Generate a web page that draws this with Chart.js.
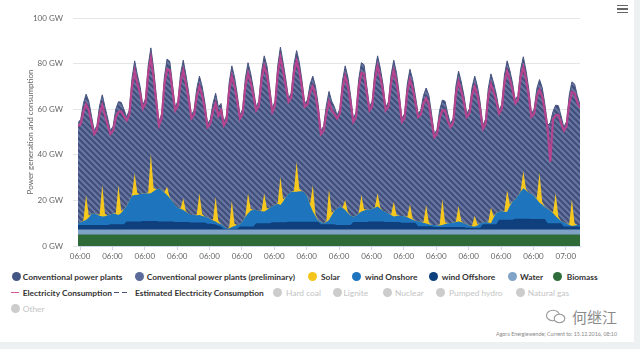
<!DOCTYPE html>
<html>
<head>
<meta charset="utf-8">
<script src="https://cdn.jsdelivr.net/npm/chart.js@4.4.0/dist/chart.umd.min.js"></script>
<style>
  body { margin: 0; width: 640px; height: 349px; background: #fff; position: relative; overflow: hidden; font-family: Lato, "Open Sans", sans-serif; }
  #wrap { position: absolute; left: 0; top: 0; width: 640px; height: 262px; }
  .strip-r { position: absolute; left: 634px; top: 0; width: 6px; height: 349px; background: #eef1f1; }
  .strip-b { position: absolute; left: 0; top: 342px; width: 640px; height: 7px; background: #eef1f1; }
  .menu { position: absolute; left: 617px; width: 11px; height: 1.6px; background: #666; }
  .dot { position: absolute; width: 9px; height: 9px; border-radius: 50%; }
  .lg { position: absolute; font-size: 8.4px; font-weight: 700; color: #333; white-space: nowrap; line-height: 10px; }
  .lg.off { color: #c4c4c4; font-weight: 400; }
  .mark { position: absolute; height: 1.6px; }
  .wm { position: absolute; left: 572px; top: 306px; font-size: 15px; color: #8a8a8a; font-family: "Noto Sans CJK SC", sans-serif; }
  .credit { position: absolute; right: 23px; top: 331px; font-size: 5.3px; color: #888; white-space: nowrap; }
</style>
</head>
<body>
<div id="wrap"><canvas id="chart" width="640" height="262"></canvas></div>

<div class="menu" style="top:4.5px"></div>
<div class="menu" style="top:8px"></div>
<div class="menu" style="top:11.5px"></div>

<!-- legend row 1 -->
<div class="dot" style="left:11.5px;top:272px;background:#445683"></div>
<div class="lg" style="left:22.7px;top:271.5px">Conventional power plants</div>
<div class="dot" style="left:134.8px;top:272px;background:#5a6a9a"></div>
<div class="lg" style="left:146.7px;top:271.5px">Conventional power plants (preliminary)</div>
<div class="dot" style="left:308.2px;top:272px;background:#f4c51d"></div>
<div class="lg" style="left:321px;top:271.5px">Solar</div>
<div class="dot" style="left:352.2px;top:272px;background:#1e74bd"></div>
<div class="lg" style="left:365px;top:271.5px">wind Onshore</div>
<div class="dot" style="left:428.8px;top:272px;background:#0e427f"></div>
<div class="lg" style="left:441.7px;top:271.5px">wind Offshore</div>
<div class="dot" style="left:507.8px;top:272px;background:#7fa4c8"></div>
<div class="lg" style="left:520px;top:271.5px">Water</div>
<div class="dot" style="left:553.2px;top:272px;background:#2f6d3a"></div>
<div class="lg" style="left:566.7px;top:271.5px">Biomass</div>

<!-- legend row 2 -->
<div class="mark" style="left:11px;top:291.5px;width:7.5px;background:#cf5a9c"></div>
<div class="lg" style="left:22.7px;top:287.5px">Electricity Consumption</div>
<div class="mark" style="left:114px;top:291.5px;width:5px;background:#4a5278"></div>
<div class="mark" style="left:122px;top:291.5px;width:5px;background:#4a5278"></div>
<div class="lg" style="left:135px;top:287.5px">Estimated Electricity Consumption</div>
<div class="dot" style="left:272.8px;top:288px;background:#cccccc"></div>
<div class="lg off" style="left:286px;top:287.5px">Hard coal</div>
<div class="dot" style="left:332.8px;top:288px;background:#cccccc"></div>
<div class="lg off" style="left:343.5px;top:287.5px">Lignite</div>
<div class="dot" style="left:382.8px;top:288px;background:#cccccc"></div>
<div class="lg off" style="left:395px;top:287.5px">Nuclear</div>
<div class="dot" style="left:435.5px;top:288px;background:#cccccc"></div>
<div class="lg off" style="left:449px;top:287.5px">Pumped hydro</div>
<div class="dot" style="left:515.5px;top:288px;background:#cccccc"></div>
<div class="lg off" style="left:527.7px;top:287.5px">Natural gas</div>

<!-- legend row 3 -->
<div class="dot" style="left:10.5px;top:304px;background:#cccccc"></div>
<div class="lg off" style="left:22.7px;top:303.5px">Other</div>

<svg style="position:absolute;left:545px;top:309px" width="24" height="16" viewBox="0 0 24 16">
  <ellipse cx="8" cy="6.5" rx="6.5" ry="5.3" fill="#fff" stroke="#9a9a9a" stroke-width="1.1"/>
  <ellipse cx="14.5" cy="9.5" rx="5.3" ry="4.3" fill="#fff" stroke="#9a9a9a" stroke-width="1.1"/>
</svg>
<div class="wm">何继江</div>
<div class="credit">Agora Energiewende; Current to: 15.12.2016, 08:10</div>

<div class="strip-r"></div>
<div class="strip-b"></div>

<script>
// one value every 4 hours (00, 04, 08, 12, 16, 20), one row per day, GW
const stepHours = 4;

const biomass = [
  5.0, 5.0, 5.0, 5.0, 5.0, 5.0,  5.0, 5.0, 5.0, 5.0, 5.0, 5.0,  5.0, 5.0, 5.0, 5.0, 5.0, 5.0,
  5.0, 5.0, 5.0, 5.0, 5.0, 5.0,  5.0, 5.0, 5.0, 5.0, 5.0, 5.0,  5.0, 5.0, 5.0, 5.0, 5.0, 5.0,
  5.0, 5.0, 5.0, 5.0, 5.0, 5.0,  5.0, 5.0, 5.0, 5.0, 5.0, 5.0,  5.0, 5.0, 5.0, 5.0, 5.0, 5.0,
  5.0, 5.0, 5.0, 5.0, 5.0, 5.0,  5.0, 5.0, 5.0, 5.0, 5.0, 5.0,  5.0, 5.0, 5.0, 5.0, 5.0, 5.0,
  5.0, 5.0, 5.0, 5.0, 5.0, 5.0,  5.0, 5.0, 5.0, 5.0, 5.0, 5.0,  5.0, 5.0, 5.0, 5.0, 5.0, 5.0,
  5.0, 5.0, 5.0, 5.0, 5.0, 5.0,  5.0, 5.0, 5.0, 5.0, 5.0, 5.0,  5.0, 5.0, 5.0, 5.0, 5.0, 5.0,
  5.0, 5.0, 5.0, 5.0, 5.0, 5.0,  5.0, 5.0, 5.0, 5.0, 5.0, 5.0,  5.0, 5.0, 5.0, 5.0, 5.0, 5.0,
  5.0, 5.0, 5.0, 5.0, 5.0, 5.0,  5.0, 5.0, 5.0, 5.0, 5.0, 5.0,  5.0, 5.0, 5.0, 5.0, 5.0, 5.0,
  5.0, 5.0, 5.0, 5.0, 5.0, 5.0,  5.0, 5.0, 5.0, 5.0, 5.0, 5.0,  5.0, 5.0, 5.0, 5.0, 5.0, 5.0,
  5.0, 5.0, 5.0, 5.0, 5.0, 5.0,  5.0, 5.0, 5.0, 5.0, 5.0, 5.0,  5.0, 5.0, 5.0, 5.0, 5.0, 5.0,
  5.0, 5.0, 5.0, 5.0, 5.0, 5.0,
  5.0
];

const water = [
  2.2, 2.2, 2.2, 2.2, 2.2, 2.2,  2.2, 2.2, 2.2, 2.2, 2.2, 2.2,  2.2, 2.2, 2.2, 2.2, 2.2, 2.2,
  2.2, 2.2, 2.2, 2.2, 2.2, 2.2,  2.2, 2.2, 2.2, 2.2, 2.2, 2.2,  2.2, 2.2, 2.2, 2.2, 2.2, 2.2,
  2.2, 2.2, 2.2, 2.2, 2.2, 2.2,  2.2, 2.2, 2.2, 2.2, 2.2, 2.2,  2.2, 2.2, 2.2, 2.2, 2.2, 2.2,
  2.2, 2.2, 2.2, 2.2, 2.2, 2.2,  2.2, 2.2, 2.2, 2.2, 2.2, 2.2,  2.2, 2.2, 2.2, 2.2, 2.2, 2.2,
  2.2, 2.2, 2.2, 2.2, 2.2, 2.2,  2.2, 2.2, 2.2, 2.2, 2.2, 2.2,  2.2, 2.2, 2.2, 2.2, 2.2, 2.2,
  2.2, 2.2, 2.2, 2.2, 2.2, 2.2,  2.2, 2.2, 2.2, 2.2, 2.2, 2.2,  2.2, 2.2, 2.2, 2.2, 2.2, 2.2,
  2.2, 2.2, 2.2, 2.2, 2.2, 2.2,  2.2, 2.2, 2.2, 2.2, 2.2, 2.2,  2.2, 2.2, 2.2, 2.2, 2.2, 2.2,
  2.2, 2.2, 2.2, 2.2, 2.2, 2.2,  2.2, 2.2, 2.2, 2.2, 2.2, 2.2,  2.2, 2.2, 2.2, 2.2, 2.2, 2.2,
  2.2, 2.2, 2.2, 2.2, 2.2, 2.2,  2.2, 2.2, 2.2, 2.2, 2.2, 2.2,  2.2, 2.2, 2.2, 2.2, 2.2, 2.2,
  2.2, 2.2, 2.2, 2.2, 2.2, 2.2,  2.2, 2.2, 2.2, 2.2, 2.2, 2.2,  2.2, 2.2, 2.2, 2.2, 2.2, 2.2,
  2.2, 2.2, 2.2, 2.2, 2.2, 2.2,
  2.2
];

const windOffshore = [
  2.0, 2.0, 2.0, 2.0, 2.0, 2.0,
  2.0, 2.0, 2.0, 2.0, 2.0, 2.0,
  2.3, 2.3, 2.3, 2.3, 2.3, 2.3,
  3.6, 3.6, 3.6, 3.6, 3.6, 3.6,
  3.8, 3.8, 3.8, 3.8, 3.8, 3.8,
  3.6, 3.6, 3.6, 3.6, 3.6, 3.6,
  3.3, 3.3, 3.3, 3.3, 3.3, 3.3,
  3.1, 3.1, 3.1, 3.1, 3.1, 3.1,
  2.6, 2.6, 2.4, 2.2, 1.8, 1.4,
  0.4, 0.4, 0.4, 0.4, 0.4, 0.4,
  1.3, 1.3, 1.3, 1.3, 1.3, 1.3,
  2.8, 2.8, 2.8, 2.8, 2.8, 2.8,
  3.2, 3.2, 3.2, 3.2, 3.2, 3.2,
  3.4, 3.4, 3.4, 3.4, 3.4, 3.4,
  3.4, 3.4, 3.4, 3.4, 3.4, 3.4,
  2.3, 2.3, 2.3, 2.3, 2.3, 2.3,
  2.0, 2.0, 2.0, 2.0, 2.0, 2.0,
  3.3, 3.3, 3.3, 3.3, 3.3, 3.3,
  3.5, 3.5, 3.5, 3.5, 3.5, 3.5,
  3.3, 3.3, 3.3, 3.3, 3.3, 3.3,
  3.0, 3.0, 3.0, 3.0, 3.0, 3.0,
  1.5, 1.5, 1.5, 1.5, 1.5, 1.5,
  1.1, 1.1, 1.1, 1.1, 1.1, 1.1,
  1.1, 1.1, 1.1, 1.1, 1.1, 1.1,
  0.8, 0.8, 0.8, 0.8, 0.8, 0.8,
  2.3, 2.3, 2.3, 2.3, 2.3, 2.3,
  4.3, 4.3, 4.3, 4.3, 4.3, 4.3,
  4.8, 4.8, 4.8, 4.8, 4.8, 4.8,
  4.6, 4.6, 4.6, 4.6, 4.6, 4.6,
  2.8, 2.8, 2.8, 2.8, 2.8, 2.8,
  1.4, 1.4, 1.4, 1.4, 1.4, 1.4,
  1.4
];

const windOnshore = [
  0.7, 1.3, 1.8, 2.2, 3.3, 4.8,
  5.0, 4.6, 4.1, 3.7, 3.8, 4.3,
  4.3, 4.7, 4.5, 4.1, 5.0, 6.5,
  6.7, 9.2, 11.2, 11.6, 11.7, 12.0,
  12.0, 12.1, 12.0, 12.1, 13.0, 13.8,
  14.4, 13.7, 12.7, 11.6, 10.2, 8.7,
  7.5, 6.3, 5.8, 5.3, 4.5, 3.7,
  3.3, 3.3, 3.2, 3.3, 2.9, 2.6,
  2.7, 2.0, 1.6, 1.3, 1.0, 0.9,
  1.2, 0.2, 0.1, 0.7, 1.2, 1.6,
  1.1, 2.5, 4.3, 5.8, 7.1, 7.3,
  5.8, 5.5, 5.2, 5.1, 5.8, 6.8,
  6.9, 7.6, 8.1, 7.6, 9.1, 11.1,
  12.2, 13.2, 13.2, 13.2, 13.4, 13.4,
  12.9, 10.9, 7.4, 4.5, 2.4, 0.4,
  1.0, 0.5, 1.0, 1.9, 4.0, 6.0,
  7.3, 8.1, 7.6, 6.6, 5.3, 4.1,
  2.4, 2.8, 3.7, 4.6, 5.1, 5.5,
  5.3, 5.6, 6.1, 6.6, 5.8, 4.8,
  4.5, 3.8, 3.1, 2.4, 2.7, 2.8,
  3.0, 2.8, 2.4, 1.9, 1.3, 0.8,
  2.2, 1.9, 1.5, 1.2, 0.8, 0.5,
  0.9, 0.8, 0.7, 0.9, 1.3, 1.6,
  1.8, 2.0, 2.2, 2.4, 2.2, 1.7,
  1.5, 1.0, 0.7, 0.5, 1.0, 2.0,
  0.7, 1.1, 0.8, 0.5, 3.0, 5.0,
  3.5, 4.0, 3.5, 3.5, 6.0, 8.0,
  8.5, 10.0, 11.8, 13.3, 12.5, 11.5,
  11.0, 10.2, 8.7, 7.2, 6.4, 5.2,
  6.3, 5.5, 4.5, 3.0, 2.0, 1.0,
  1.9, 1.3, 0.7, 0.2, 0.4, 0.6,
  0.6
];

const solar = [
  0, 0, 0.3, 11.0, 0.9, 0,
  0, 0, 0.4, 14.0, 1.1, 0,
  0, 0, 0.4, 13.0, 1.0, 0,
  0, 0, 0.3, 9.5, 0.8, 0,
  0, 0, 0.5, 17.5, 1.4, 0,
  0, 0, 0.1, 3.6, 0.3, 0,
  0, 0, 0.2, 5.1, 0.4, 0,
  0, 0, 0.3, 9.5, 0.8, 0,
  0, 0, 0.3, 10.9, 0.9, 0,
  0, 0, 0.4, 11.7, 1.0, 0,
  0, 0, 0.3, 8.8, 0.7, 0,
  0, 0, 0.3, 8.0, 0.6, 0,
  0, 0, 0.4, 12.4, 1.0, 0,
  0, 0, 0.4, 13.2, 1.1, 0,
  0, 0, 0.4, 11.7, 0.9, 0,
  0, 0, 0.4, 13.5, 1.1, 0,
  0, 0, 0.1, 4.4, 0.4, 0,
  0, 0, 0.2, 7.3, 0.6, 0,
  0, 0, 0.2, 5.8, 0.5, 0,
  0, 0, 0.2, 6.5, 0.5, 0,
  0, 0, 0.2, 6.2, 0.5, 0,
  0, 0, 0.3, 8.1, 0.7, 0,
  0, 0, 0.4, 11.4, 0.9, 0,
  0, 0, 0.2, 7.0, 0.6, 0,
  0, 0, 0.2, 4.8, 0.4, 0,
  0, 0, 0.2, 6.9, 0.6, 0,
  0, 0, 0.3, 9.5, 0.8, 0,
  0, 0, 0.2, 7.6, 0.6, 0,
  0, 0, 0.4, 13.2, 1.1, 0,
  0, 0, 0.3, 10.2, 0.8, 0,
  0, 0, 0.4, 11.7, 0.9, 0,
  0
];

const conventional = [
  44.2, 45.0, 51.2, 44.2, 50.1, 43.0,
  36.4, 39.0, 47.8, 39.4, 46.9, 42.5,
  36.8, 38.3, 45.6, 36.7, 47.5, 44.0,
  39.1, 39.5, 51.2, 49.3, 51.7, 47.2,
  38.8, 41.4, 55.5, 46.3, 52.6, 41.2,
  29.2, 33.5, 50.4, 56.0, 59.7, 51.5,
  43.0, 46.7, 59.0, 60.6, 59.6, 53.3,
  43.8, 45.9, 55.2, 51.4, 56.0, 50.1,
  41.1, 43.7, 51.0, 45.4, 50.1, 53.0,
  45.6, 49.2, 63.4, 59.0, 64.2, 57.3,
  47.8, 49.0, 60.4, 57.3, 59.2, 53.2,
  45.2, 48.0, 61.0, 60.3, 62.6, 53.2,
  43.0, 45.5, 60.1, 56.8, 60.0, 51.5,
  42.0, 43.2, 55.3, 48.7, 55.4, 48.5,
  39.1, 42.5, 52.6, 47.7, 56.1, 51.0,
  40.1, 42.5, 50.6, 42.9, 48.9, 45.5,
  40.9, 42.7, 55.6, 58.8, 59.1, 52.7,
  43.0, 45.2, 58.6, 58.0, 63.3, 54.0,
  45.0, 47.2, 59.5, 60.3, 61.0, 55.5,
  46.0, 48.7, 61.2, 62.1, 62.3, 53.7,
  42.7, 45.0, 58.2, 59.2, 61.0, 55.0,
  47.2, 48.9, 55.5, 51.3, 55.8, 48.8,
  40.0, 41.9, 50.1, 43.4, 53.0, 48.1,
  43.5, 45.7, 59.3, 59.0, 60.9, 56.0,
  48.6, 51.0, 60.6, 61.2, 60.6, 53.0,
  42.7, 44.9, 58.5, 58.6, 58.4, 52.0,
  44.6, 46.5, 59.7, 56.7, 58.7, 52.0,
  43.6, 44.0, 53.5, 50.1, 51.9, 45.5,
  35.3, 38.0, 48.1, 40.8, 50.2, 45.0,
  36.6, 38.5, 44.2, 38.6, 48.7, 46.0,
  41.6, 44.6, 56.3, 51.5, 61.1, 56.8,
  52.8
];

const consumption = [
  52.6, 53.5, 59.0, 62.1, 59.5, 54.0,
  49.1, 50.8, 58.0, 61.8, 57.0, 53.0,
  49.1, 50.5, 56.5, 58.8, 59.0, 57.0,
  55.1, 57.5, 70.0, 76.7, 71.0, 67.0,
  60.3, 62.5, 75.5, 82.4, 74.0, 63.0,
  52.9, 56.0, 70.5, 77.5, 77.0, 68.0,
  59.5, 61.5, 72.0, 77.0, 71.0, 64.5,
  55.9, 57.5, 65.5, 70.0, 66.0, 60.0,
  52.1, 53.5, 59.0, 62.5, 57.0, 59.5,
  52.9, 55.0, 68.0, 74.5, 70.0, 63.5,
  55.9, 58.0, 70.0, 75.9, 71.5, 66.0,
  59.5, 61.5, 73.0, 78.9, 75.0, 67.0,
  58.8, 61.5, 75.5, 82.7, 76.5, 70.0,
  63.3, 65.0, 76.0, 81.2, 76.5, 69.5,
  61.1, 62.0, 67.5, 70.0, 66.0, 59.0,
  49.1, 50.5, 58.0, 63.3, 59.5, 58.0,
  55.9, 58.0, 69.0, 74.5, 70.0, 63.0,
  54.4, 56.5, 69.5, 75.9, 75.5, 67.0,
  59.5, 61.5, 73.0, 78.9, 74.0, 68.0,
  59.5, 61.0, 71.5, 77.0, 72.0, 64.0,
  54.4, 56.0, 67.5, 73.0, 69.0, 63.0,
  56.6, 57.5, 62.5, 64.8, 62.0, 55.0,
  47.7, 49.0, 56.0, 59.5, 59.5, 55.0,
  52.1, 54.0, 66.5, 72.2, 68.0, 63.0,
  56.6, 58.0, 66.0, 70.0, 66.0, 60.0,
  51.4, 53.5, 65.5, 71.0, 67.5, 63.5,
  58.1, 60.0, 71.5, 76.7, 73.0, 68.5,
  62.6, 64.0, 74.0, 78.5, 73.0, 66.0,
  56.6, 58.0, 65.5, 68.5, 65.5, 59.0,
  51.4, 37.0, 55.5, 57.3, 57.5, 54.0,
  50.6, 52.5, 62.5, 67.5, 67.0, 63.0,
  60.5
];

// x axis: hours since start, one tick every two days
const tickHours = [3, 51, 99, 147, 195, 243, 291, 339, 387, 435, 483, 531, 579, 627, 675, 723];
const tickLabels = ["06:00", "06:00", "06:00", "06:00", "06:00", "06:00", "06:00", "06:00",
                    "06:00", "06:00", "06:00", "06:00", "06:00", "06:00", "06:00", "07:00"];

function pts(arr) {
  return arr.map((v, i) => ({ x: i * stepHours, y: v }));
}

// diagonal hatch used for conventional plants
function hatch() {
  const c = document.createElement("canvas");
  c.width = 6; c.height = 6;
  const g = c.getContext("2d");
  g.fillStyle = "#6877a2";
  g.fillRect(0, 0, 6, 6);
  g.strokeStyle = "#414e7b";
  g.lineWidth = 2.2;
  g.beginPath();
  g.moveTo(-3, 3); g.lineTo(3, 9);
  g.moveTo(0, 0); g.lineTo(6, 6);
  g.moveTo(3, -3); g.lineTo(9, 3);
  g.stroke();
  return g.createPattern(c, "repeat");
}

Chart.defaults.font.family = "Lato, 'Open Sans', sans-serif";
Chart.defaults.color = "#666";

const none = "rgba(0,0,0,0)";
const area = (label, data, color) => ({
  label, data: pts(data), stack: "gen", fill: "origin",
  backgroundColor: color, borderColor: none, borderWidth: 0, pointRadius: 0
});

new Chart(document.getElementById("chart"), {
  type: "line",
  data: {
    datasets: [
      {
        label: "Electricity Consumption", data: pts(consumption), stack: "load", fill: false,
        borderColor: "rgba(200,62,142,0.85)", borderWidth: 2.2, pointRadius: 0
      },
      area("Biomass", biomass, "#2f6b39"),
      area("Water", water, "#7fa3c6"),
      area("wind Offshore", windOffshore, "#0f3f7c"),
      area("wind Onshore", windOnshore, "#1f75bd"),
      area("Solar", solar, "#f6c81e"),
      {
        label: "Conventional power plants", data: pts(conventional), stack: "gen", fill: "origin",
        backgroundColor: hatch(), borderColor: "#45537f", borderWidth: 1, pointRadius: 0
      }
    ]
  },
  options: {
    responsive: false,
    animation: false,
    layout: { padding: { top: 18, right: 60, left: 0, bottom: 0 } },
    elements: { line: { tension: 0 } },
    plugins: { legend: { display: false }, tooltip: { enabled: false } },
    scales: {
      x: {
        type: "linear", min: 0, max: 744,
        afterBuildTicks: (s) => { s.ticks = tickHours.map(v => ({ value: v })); },
        afterFit: (s) => { s.height = 16; },
        ticks: {
          autoSkip: false, maxRotation: 0, padding: 2,
          font: { size: 8 }, color: "#666",
          callback: (v, i) => tickLabels[i]
        },
        grid: { drawOnChartArea: false, drawTicks: true, tickLength: 4, color: "#ccd6eb" },
        border: { display: true, color: "#ccd6eb" }
      },
      y: {
        stacked: true, min: 0, max: 100,
        afterFit: (s) => { s.width = 78; },
        ticks: { stepSize: 20, padding: 10, font: { size: 8 }, color: "#666", callback: v => v + " GW" },
        grid: { color: "#e6e6e6", drawTicks: true, tickLength: 5 },
        border: { display: false },
        title: {
          display: true, text: "Power generation and consumption",
          color: "#666", font: { size: 8 }, padding: { top: 26, bottom: 0 }
        }
      }
    }
  }
});
</script>
</body>
</html>
